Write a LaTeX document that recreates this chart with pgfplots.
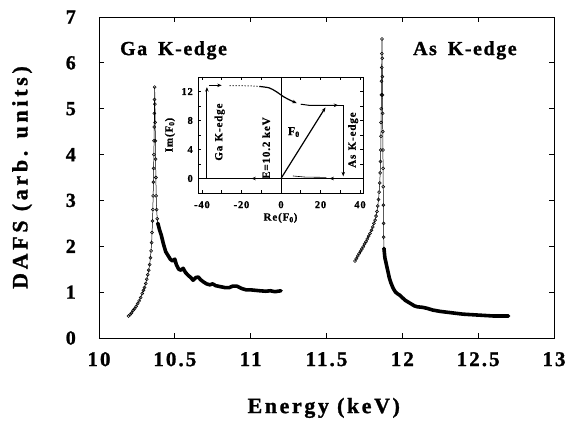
\documentclass[border=0pt]{standalone}
\usepackage{pgfplots}
\pgfplotsset{compat=1.18}
\usepackage{fontspec}
\usetikzlibrary{arrows.meta}
\setmainfont{Liberation Serif}
\newfontfamily\tickfont[LetterSpace=10, BoldFeatures={FakeBold=1.2}]{Liberation Serif}
\newfontfamily\xlabfont[LetterSpace=12, BoldFeatures={FakeBold=1.2}]{Liberation Serif}
\newfontfamily\ylabfont[LetterSpace=17, BoldFeatures={FakeBold=1.2}]{Liberation Serif}
\newfontfamily\titlefont[LetterSpace=8, BoldFeatures={FakeBold=1.2}]{Liberation Serif}
\newfontfamily\insetfont[LetterSpace=8, BoldFeatures={FakeBold=0.8}]{Liberation Serif}

\tikzset{arr/.style={-{Stealth[length=4.5pt,width=3.5pt]}}}

\begin{document}
\begin{tikzpicture}
\path[use as bounding box] (-99bp,-88bp) rectangle (474bp,338bp);

% main DAFS spectra
\begin{axis}[
  at={(0,0)}, anchor=south west,
  scale only axis, width=455bp, height=321bp,
  xmin=10, xmax=13, ymin=0, ymax=7,
  xtick={10,10.5,11,11.5,12,12.5,13},
  xticklabels={10,10.5,11,11.5,12,12.5,13},
  ytick={0,1,2,3,4,5,6,7},
  yticklabels={0,1,2,3,4,5,6,7},
  tick align=inside, major tick length=5bp,
  every tick/.style={black, line width=0.8pt},
  axis line style={line width=0.9pt},
  xticklabel style={font=\tickfont\fontsize{21}{24}\selectfont\bfseries, inner sep=0pt, anchor=north, yshift=-14bp},
  yticklabel style={font=\tickfont\fontsize{20}{24}\selectfont\bfseries, inner sep=0pt, anchor=east, xshift=-23bp},
  xlabel={Energy (keV)},
  xlabel style={font=\xlabfont\fontsize{22}{26}\selectfont\bfseries, at={(axis description cs:0.494,-0.234)}, anchor=base, inner sep=0pt},
  ylabel={DAFS (arb. units)},
  ylabel style={font=\ylabfont\fontsize{22}{26}\selectfont\bfseries, at={(axis description cs:-0.169,0.5)}, anchor=center, inner sep=0pt},
  clip=false,
]
% Ga K-edge: rising branch and peak
\addplot[black, line width=0.5pt, mark=o, mark size=1.5pt, mark options={line width=0.55pt, fill=white}] coordinates {
 (10.195,0.48) (10.205,0.51) (10.215,0.55) (10.225,0.6) (10.235,0.64) (10.245,0.69) (10.255,0.75)
 (10.265,0.81) (10.275,0.88) (10.285,0.97) (10.293,1.04) (10.30,1.1) (10.308,1.19) (10.315,1.28)
 (10.322,1.38) (10.328,1.48) (10.334,1.6) (10.339,1.75) (10.343,1.9) (10.347,2.08) (10.35,2.3)
 (10.353,2.55) (10.355,2.8) (10.357,3.1) (10.359,3.4) (10.36,3.7) (10.362,4.0) (10.363,4.3)
 (10.364,4.6) (10.365,4.9) (10.366,5.2) (10.367,5.47)
 (10.369,5.1) (10.370,4.7) (10.372,4.3) (10.373,3.9) (10.375,3.5) (10.377,3.1) (10.380,2.8)
 (10.384,2.6) (10.388,2.5)
};
% Ga K-edge: fine structure above the edge
\addplot[black, line width=3.6pt, line join=round, line cap=round] coordinates {
 (10.388,2.5) (10.40,2.35) (10.41,2.25) (10.425,2.05) (10.44,1.88) (10.455,1.8) (10.47,1.72)
 (10.485,1.68) (10.5,1.72) (10.51,1.6) (10.525,1.5) (10.54,1.48) (10.555,1.52) (10.57,1.43)
 (10.59,1.36) (10.605,1.32) (10.62,1.26) (10.64,1.32) (10.655,1.33) (10.67,1.27) (10.69,1.22)
 (10.71,1.18) (10.73,1.16) (10.75,1.18) (10.77,1.14) (10.80,1.12) (10.83,1.1) (10.86,1.1)
 (10.88,1.13) (10.91,1.13) (10.94,1.08) (10.97,1.05) (11.0,1.05) (11.03,1.04) (11.06,1.03)
 (11.1,1.02) (11.13,1.03) (11.16,1.01) (11.2,1.03)
};
% As K-edge: rising branch and peak
\addplot[black, line width=0.5pt, mark=o, mark size=1.5pt, mark options={line width=0.55pt, fill=white}] coordinates {
 (11.688,1.68) (11.697,1.73) (11.706,1.79) (11.715,1.84) (11.724,1.89) (11.733,1.94) (11.742,1.99)
 (11.751,2.05) (11.760,2.1) (11.769,2.16) (11.778,2.22) (11.787,2.28) (11.796,2.35) (11.805,2.42)
 (11.813,2.5) (11.82,2.57) (11.827,2.66) (11.833,2.76) (11.838,2.88) (11.843,3.02) (11.847,3.18)
 (11.851,3.38) (11.854,3.6) (11.856,3.85) (11.858,4.1) (11.859,4.4) (11.860,4.7) (11.861,5.0)
 (11.862,5.3) (11.863,5.6) (11.864,5.9) (11.865,6.2) (11.866,6.52)
 (11.867,6.1) (11.868,5.7) (11.869,5.3) (11.870,4.9) (11.871,4.5) (11.872,4.1) (11.873,3.7)
 (11.874,3.3) (11.875,2.9) (11.876,2.5) (11.877,2.2) (11.879,1.95)
};
% As K-edge: fine structure above the edge
\addplot[black, line width=3.6pt, line join=round, line cap=round] coordinates {
 (11.879,1.95) (11.885,1.75) (11.895,1.6) (11.905,1.45) (11.915,1.3) (11.925,1.2) (11.94,1.08)
 (11.955,1.0) (11.97,0.96) (11.985,0.93) (12.0,0.88) (12.02,0.82) (12.04,0.78) (12.06,0.74)
 (12.08,0.7) (12.1,0.68) (12.13,0.67) (12.16,0.65) (12.2,0.61) (12.25,0.58) (12.3,0.56)
 (12.35,0.54) (12.4,0.52) (12.45,0.51) (12.5,0.5) (12.55,0.49) (12.6,0.48) (12.65,0.48) (12.7,0.48)
};
\node[font=\titlefont\fontsize{20}{24}\selectfont\bfseries, anchor=base west, inner sep=0pt]
  at (axis cs:10.138,6.17) {Ga\hspace{0.55em}K-edge};
\node[font=\titlefont\fontsize{20}{24}\selectfont\bfseries, anchor=base west, inner sep=0pt]
  at (axis cs:12.07,6.17) {As\hspace{0.55em}K-edge};
\end{axis}

% inset: trajectory of F0 in the complex plane
\begin{axis}[
  at={(99bp,145bp)}, anchor=south west,
  scale only axis, width=165bp, height=116bp,
  xmin=-42, xmax=41.5, ymin=-2, ymax=14,
  xtick={-40,-20,0,20,40}, xticklabels={-40,-20,0,20,40},
  ytick={0,4,8,12}, yticklabels={0,4,8,12},
  minor xtick={-30,-10,10,30}, minor ytick={2,6,10},
  tick align=inside, major tick length=3bp, minor tick length=3bp,
  every tick/.style={black, line width=0.6pt},
  axis line style={line width=0.6pt},
  axis background/.style={fill=white},
  ticklabel style={font=\insetfont\fontsize{10.5}{12}\selectfont\bfseries},
  xticklabel style={inner sep=0pt, anchor=north, yshift=-8bp},
  yticklabel style={inner sep=0pt, anchor=east, xshift=-5bp},
  xlabel={Re(F\textsubscript{0})},
  xlabel style={font=\insetfont\fontsize{11}{13}\selectfont\bfseries, at={(axis description cs:0.5,-0.215)}, anchor=center, inner sep=0pt},
  ylabel={Im(F\textsubscript{0})},
  ylabel style={font=\insetfont\fontsize{11}{13}\selectfont\bfseries, at={(axis description cs:-0.17,0.5)}, anchor=center, inner sep=0pt},
  clip=false,
]
\addplot[black, line width=0.6pt] coordinates {(-42,0) (41.5,0)};
\addplot[black, line width=0.6pt] coordinates {(0,-2) (0,14)};
\addplot[black, line width=1pt, arr] coordinates {(-37.5,0) (-37.5,12.6)};
\addplot[black, line width=1pt, arr] coordinates {(-36.5,12.85) (-30,12.85)};
\addplot[black, line width=1pt, dotted] coordinates {(-26,12.8) (-20,12.8) (-15,12.78) (-11,12.7)};
\addplot[black, line width=1.2pt, arr, smooth] coordinates {(-11,12.7) (-6,12.5) (-2.5,12.0) (1.5,11.25) (5,10.75) (8,10.4)};
\addplot[black, line width=1pt, arr] coordinates {(10,10.25) (14,10.1) (29,10.1)};
\addplot[black, line width=0.8pt, arr] coordinates {(28,10.1) (31.5,10.1) (31.5,0.3)};
\addplot[black, line width=1pt, arr] coordinates {(31.5,0) (24.5,0)};
\addplot[black, line width=0.6pt] coordinates {(23,0.15) (12,0.2) (6,0.35)};
\addplot[black, line width=1pt, arr] coordinates {(-6,0) (-15,0)};
\addplot[black, line width=0.8pt, dotted] coordinates {(-30,0.05) (-16,0.05)};
\addplot[black, line width=1.2pt, arr] coordinates {(0,0) (22.5,9.8)};
\node[font=\insetfont\fontsize{11}{13}\selectfont\bfseries, rotate=90, inner sep=0pt] at (axis cs:-31,6.4) {Ga\hspace{0.4em}K-edge};
\node[font=\insetfont\fontsize{11}{13}\selectfont\bfseries, rotate=90, inner sep=0pt] at (axis cs:-7.5,4.2) {E=10.2 keV};
\node[font=\insetfont\fontsize{11}{13}\selectfont\bfseries, rotate=90, inner sep=0pt] at (axis cs:36.5,5.3) {As\hspace{0.4em}K-edge};
\node[font=\insetfont\fontsize{12}{14}\selectfont\bfseries, inner sep=0pt] at (axis cs:6.5,6.4) {F\textsubscript{0}};
\end{axis}
\end{tikzpicture}
\end{document}
